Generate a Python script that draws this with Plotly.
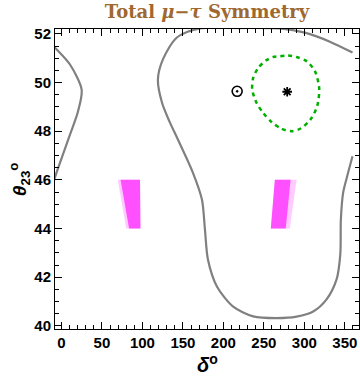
import plotly.graph_objects as go

# gray contour, left piece (delta in deg, theta23 in deg)
left_delta = [-9, -5.9, 10.5, 24.9, 20.4, 10.5, -5.6, -9]
left_theta = [51.47, 51.36, 50.74, 49.71, 48.81, 47.86, 46.35, 46.0]

# gray contour, main piece
main_delta = [359.5, 331.5, 300.6, 269.8, 220.4, 171.0, 142.6, 125.3, 119.1, 124.1,
              133.9, 143.8, 162.3, 173.5, 177.2, 180.9, 192.0, 211.7, 236.8, 265.7,
              290.4, 310.9, 327.4, 339.8, 344.4, 345.1, 347.9, 352.5, 359.5]
main_theta = [51.23, 51.68, 52.05, 52.22, 52.24, 52.22, 51.85, 50.95, 50.12, 49.18,
              48.36, 47.66, 46.30, 45.19, 43.96, 42.73, 41.62, 40.80, 40.39, 40.32,
              40.38, 40.59, 41.09, 41.91, 42.94, 44.37, 45.47, 46.10, 46.97]

# green dashed contour
green_delta = [269.8, 280.0, 290.3, 302.7, 313.0, 318.3, 316.0, 308.0, 296.0, 284.2,
               271.8, 259.5, 249.2, 240.9, 235.6, 236.8, 243.0, 253.3, 261.5, 269.8]
green_theta = [51.08, 51.11, 51.05, 50.88, 50.47, 49.78, 49.05, 48.50, 48.12, 48.00,
               48.10, 48.38, 48.75, 49.17, 49.71, 50.19, 50.60, 50.92, 51.05, 51.08]

# best fit and symmetric points
star_delta, star_theta = [278.8], [49.62]
odot_delta, odot_theta = [217.0], [49.64]

# magenta bands: delta edges at theta = 46 (top) and 44 (bottom)
band_theta = [46, 44]
band1_core = ([73.0, 83.5], [97.0, 97.5])
band1_faint = ([69.5, 80.0], [97.0, 97.5])
band2_core = ([263.6, 258.6], [283.0, 277.0])
band2_faint = ([263.6, 258.6], [290.4, 282.0])

fig = go.Figure()


def add_band(lo, hi, opacity):
    xs = [lo[0], hi[0], hi[1], lo[1], lo[0]]
    ys = [band_theta[0], band_theta[0], band_theta[1], band_theta[1], band_theta[0]]
    fig.add_trace(go.Scatter(x=xs, y=ys, fill="toself", mode="lines",
                             line=dict(width=0), fillcolor="rgb(255,80,255)",
                             opacity=opacity, hoverinfo="skip"))


add_band(*band1_faint, 0.3)
add_band(*band1_core, 1.0)
add_band(*band2_faint, 0.3)
add_band(*band2_core, 1.0)

for xs, ys in [(left_delta, left_theta), (main_delta, main_theta)]:
    fig.add_trace(go.Scatter(x=xs, y=ys, mode="lines", line=dict(color="#808080", width=2.2,
                                                                 shape="spline", smoothing=0.8)))

fig.add_trace(go.Scatter(x=green_delta, y=green_theta, mode="lines",
                         line=dict(color="rgb(0,175,0)", width=2.5, dash="4px,4px",
                                   shape="spline", smoothing=0.8)))

fig.add_trace(go.Scatter(x=odot_delta, y=odot_theta, mode="markers",
                         marker=dict(symbol="circle-open-dot", size=10, color="black",
                                     line=dict(width=1.6, color="black"))))
fig.add_trace(go.Scatter(x=star_delta, y=star_theta, mode="markers",
                         marker=dict(symbol="asterisk-open", size=8, color="black",
                                     line=dict(width=1.8, color="black"))))

tickfont = dict(family="Liberation Sans", size=15, color="black", weight="bold")
axis_common = dict(showgrid=False, zeroline=False, showline=True, linecolor="black",
                   linewidth=1, mirror="allticks", ticks="inside", ticklen=7,
                   tickcolor="black", tickfont=tickfont)

fig.update_xaxes(range=[-8, 367.5], tickvals=[0, 50, 100, 150, 200, 250, 300, 350],
                 minor=dict(ticks="inside", dtick=10, ticklen=4, tickcolor="black"),
                 **axis_common)
fig.update_yaxes(range=[39.87, 52.2], tickvals=[40, 42, 44, 46, 48, 50, 52],
                 minor=dict(ticks="inside", dtick=0.5, ticklen=4, tickcolor="black"),
                 **axis_common)

fig.update_layout(
    width=360, height=379,
    margin=dict(l=55, r=1, t=29, b=50),
    plot_bgcolor="white", paper_bgcolor="white",
    showlegend=False,
    title=dict(text="<b>Total <i>μ</i>−<i>τ</i> Symmetry</b>", x=0.575, xanchor="center",
               y=0.968, yanchor="middle",
               font=dict(family="DejaVu Serif", size=18, color="rgb(158,104,48)")),
    annotations=[
        dict(text="<b><i>δ</i><sup>o</sup></b>", xref="paper", yref="paper", x=0.5, y=-0.115,
             xanchor="center", yanchor="middle", showarrow=False,
             font=dict(family="Liberation Sans", size=20, color="black")),
        dict(text="<b><i>θ</i><sub>23</sub><sup>o</sup></b>", xref="paper", yref="paper",
             x=-0.118, y=0.5, xanchor="center", yanchor="middle", textangle=-90,
             showarrow=False, font=dict(family="Liberation Sans", size=19, color="black")),
    ],
)

fig.write_html("out.html", config={"displayModeBar": False},
               post_script="document.body.style.margin='0';")
